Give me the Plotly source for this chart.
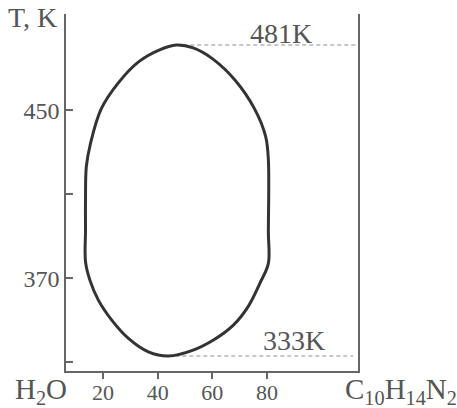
import plotly.graph_objects as go

# Phase boundary of the closed-loop miscibility gap (mass % nicotine, temperature K)
comp_pct = [13.6, 13.6, 13.9, 15.4, 19.3, 25.6, 33.0, 40.5, 46.8, 53.0, 60.0, 68.5, 75.5, 79.5, 80.5,
            80.5, 80.5, 77.4, 73.1, 67.7, 60.4, 53.0, 43.9, 36.6, 29.3, 23.2, 18.3,
            15.2, 13.6, 13.6]
temp_k = [392.9, 407.2, 423.1, 434.0, 450.5, 463.0, 473.0, 478.6, 481.0, 479.6, 474.5, 464.0, 450.5, 437.5, 426.3,
          392.0, 377.1, 367.6, 356.5, 347.7, 340.6, 335.8, 333.0, 335.0, 341.4, 350.1, 359.6,
          369.1, 377.9, 392.9]

# Critical solution temperatures
ucst_k = 481
lcst_k = 333
crit_labels = ["481K", "333K"]

x_ticks = [20, 40, 60, 80]
y_ticks = [370, 450]
y_minor_ticks = [330, 410]

x_range = [6.46, 113.3]
y_range = [325.86, 495.75]

font_family = "Liberation Serif"
text_color = "#555555"
axis_color = "#666666"

# composition where the boundary reaches each critical point
x_top = comp_pct[temp_k.index(max(temp_k))]
x_bot = comp_pct[temp_k.index(min(temp_k))]

fig = go.Figure()

fig.add_trace(go.Scatter(
    x=[x_top, x_range[1]], y=[ucst_k, ucst_k], mode="lines",
    line=dict(color="#b5b5b5", width=1.5, dash="4px,3px"), hoverinfo="skip"))
fig.add_trace(go.Scatter(
    x=[x_bot, x_range[1] - 1.8], y=[lcst_k, lcst_k], mode="lines",
    line=dict(color="#b5b5b5", width=1.5, dash="4px,3px"), hoverinfo="skip"))

fig.add_trace(go.Scatter(
    x=comp_pct, y=temp_k, mode="lines",
    line=dict(color="#333333", width=3, shape="spline", smoothing=1.0),
    hoverinfo="skip"))

fig.add_annotation(x=85.3, y=ucst_k, text=crit_labels[0], showarrow=False,
                   yshift=12, yanchor="middle",
                   font=dict(family=font_family, size=28, color=text_color))
fig.add_annotation(x=89.9, y=lcst_k, text=crit_labels[1], showarrow=False,
                   yshift=16, yanchor="middle",
                   font=dict(family=font_family, size=28, color=text_color))

fig.add_annotation(xref="paper", yref="paper", x=-0.0856, y=-0.0560,
                   text="H<sub>2</sub>O", showarrow=False,
                   xanchor="center", yanchor="middle",
                   font=dict(family=font_family, size=29, color=text_color))
fig.add_annotation(xref="paper", yref="paper", x=1.147, y=-0.0560,
                   text="C<sub>10</sub>H<sub>14</sub>N<sub>2</sub>", showarrow=False,
                   xanchor="center", yanchor="middle",
                   font=dict(family=font_family, size=29, color=text_color))
fig.add_annotation(xref="paper", yref="paper", x=-0.1147, y=0.989,
                   text="T, K", showarrow=False,
                   xanchor="center", yanchor="middle",
                   font=dict(family=font_family, size=28, color=text_color))

fig.update_xaxes(range=x_range, tickvals=x_ticks, ticks="outside", ticklen=6,
                 tickwidth=1.5, tickcolor=axis_color, showline=True,
                 linecolor=axis_color, linewidth=1.5, showgrid=False, zeroline=False,
                 tickfont=dict(family=font_family, size=22, color=text_color),
                 ticklabelstandoff=-5, automargin=False)
fig.update_yaxes(range=y_range, tickvals=y_ticks,
                 ticks="inside", ticklen=7, tickwidth=1.5, tickcolor=axis_color,
                 minor=dict(tickvals=y_minor_ticks, ticks="inside", ticklen=7,
                            tickwidth=1.5, tickcolor=axis_color, showgrid=False),
                 showline=True, mirror=True, linecolor=axis_color, linewidth=1.5,
                 showgrid=False, zeroline=False,
                 tickfont=dict(family=font_family, size=24, color=text_color),
                 automargin=False)

fig.update_layout(
    width=457, height=408,
    margin=dict(l=66, r=99, t=14, b=37),
    paper_bgcolor="white", plot_bgcolor="white",
    showlegend=False,
)

fig.write_html("out.html")
